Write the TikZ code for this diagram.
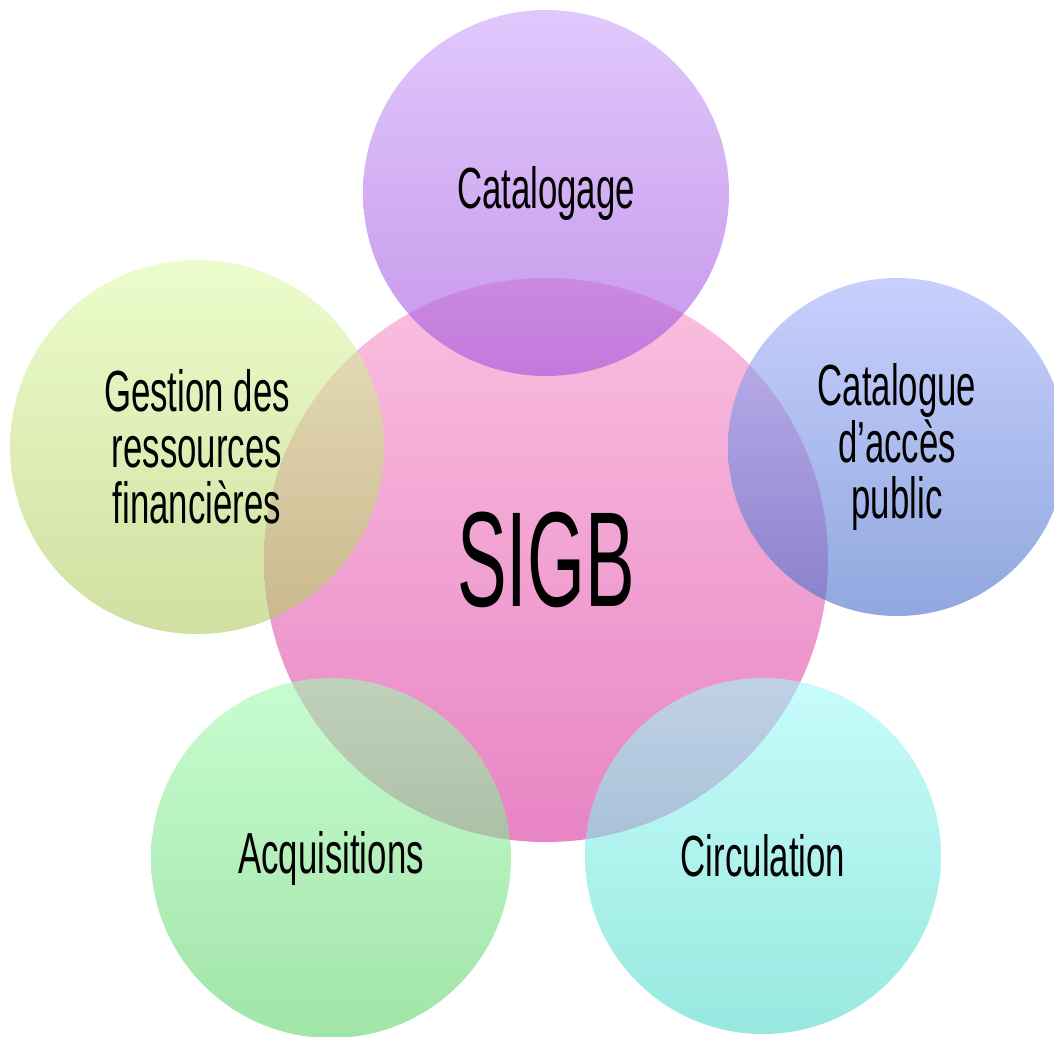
\documentclass[tikz,border=0pt]{standalone}
\usepackage{fontspec}
\usepackage{tikz}
\usetikzlibrary{positioning}
\newfontfamily\agency{Liberation Sans}[FakeStretch=0.6]
\newfontfamily\agencybig{Liberation Sans}[FakeStretch=0.55]
\definecolor{hubTop}{RGB}{250,192,224}
\definecolor{hubBot}{RGB}{232,132,196}
\definecolor{catTop}{RGB}{203,163,250}
\definecolor{catBot}{RGB}{160,80,220}
\definecolor{opacTop}{RGB}{163,176,252}
\definecolor{opacBot}{RGB}{70,110,200}
\definecolor{finTop}{RGB}{223,250,170}
\definecolor{finBot}{RGB}{177,203,97}
\definecolor{acqTop}{RGB}{163,250,177}
\definecolor{acqBot}{RGB}{97,210,110}
\definecolor{circTop}{RGB}{163,250,250}
\definecolor{circBot}{RGB}{83,217,203}
\tikzset{
  hub/.style={circle,inner sep=0pt,draw=none,align=center,
    font=\agencybig\fontsize{77}{80}\selectfont},
  bubble/.style={circle,inner sep=0pt,draw=none,align=center,
    fill opacity=0.6,text opacity=1,
    font=\agency\fontsize{33}{32}\selectfont},
}

\begin{document}
\begin{tikzpicture}
  % --- Frame ---
  \useasboundingbox (0,0) rectangle (21.08,-20.72);
  \clip (0,0) rectangle (21.08,-20.72);

  % --- 1. Central circle ---
  \node[hub, minimum size=11.28cm, top color=hubTop, bottom color=hubBot]
    (sigb) at (10.92,-11.2) {SIGB};

  % --- 2. Surrounding modules ---
  \node[bubble, minimum size=7.32cm, top color=catTop, bottom color=catBot]
    (catalogage) at (10.92,-3.86) {Catalogage};
  \node[bubble, minimum size=6.76cm, top color=opacTop, bottom color=opacBot]
    (opac) at (17.94,-8.94) {Catalogue\\d’accès\\public};
  \node[bubble, minimum size=7.48cm, top color=finTop, bottom color=finBot]
    (finances) at (3.94,-8.94) {Gestion des\\ressources\\financières};
  \node[bubble, minimum size=7.2cm, top color=acqTop, bottom color=acqBot]
    (acquisitions) at (6.62,-17.16) {Acquisitions};
  \node[bubble, minimum size=7.12cm, top color=circTop, bottom color=circBot]
    (circulation) at (15.26,-17.12) {Circulation};

\end{tikzpicture}
\end{document}
